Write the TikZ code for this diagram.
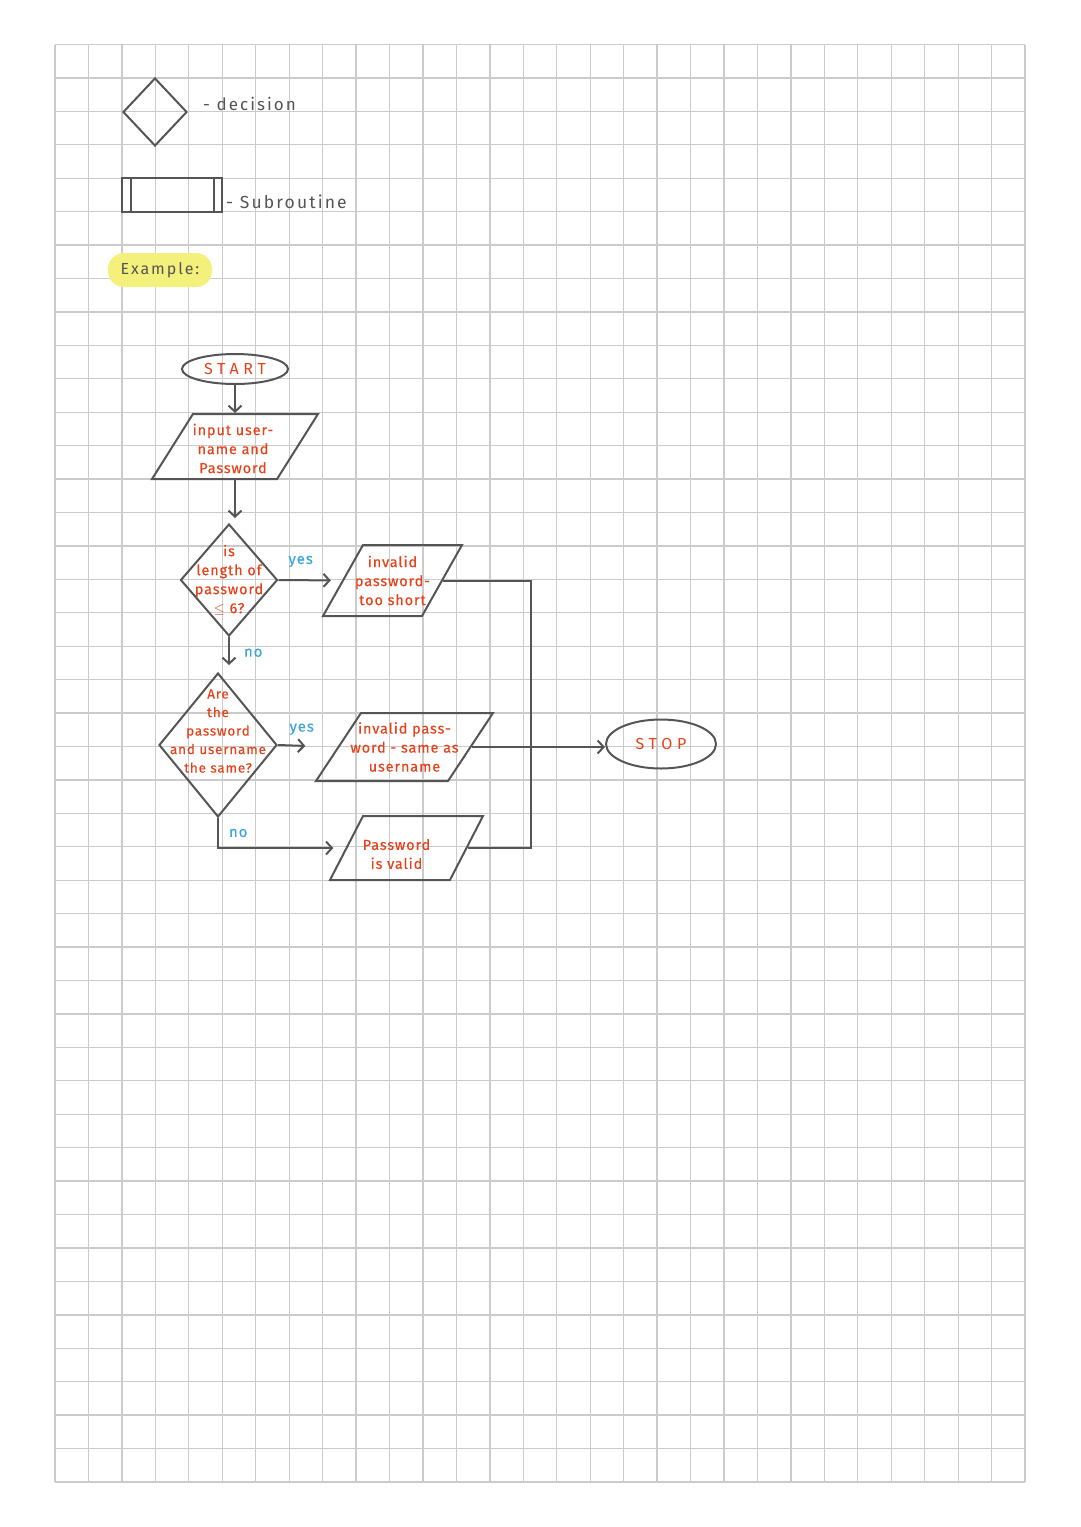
\documentclass[tikz,border=0pt]{standalone}
\usepackage{fontspec}
\setmainfont{Fira Sans}
\newfontfamily\handfont[LetterSpace=6,FakeBold=0.4]{Fira Sans}
\newfontfamily\inkfont[LetterSpace=12]{Fira Sans}
\newfontfamily\widefont[LetterSpace=30]{Fira Sans}
\usetikzlibrary{shapes.geometric,arrows.meta}
\definecolor{ink}{HTML}{555555}
\definecolor{penred}{HTML}{E5431B}
\definecolor{penblue}{HTML}{3DA5DD}
\definecolor{hilite}{HTML}{F4F07C}
\definecolor{gridgrey}{HTML}{CBCBCB}
\tikzset{
  gridline/.style={draw=gridgrey,line width=1.3pt},
  pen/.style={draw=ink,line width=2pt},
  flow/.style={pen,-{Straight Barb[length=6pt,width=13pt]}},
  decision/.style={pen,diamond,inner sep=0pt},
  io/.style={pen,trapezium,trapezium left angle=#1,trapezium right angle={180-#1},
    trapezium stretches body,inner xsep=0pt},
  io/.default=58,
  terminal/.style={pen,ellipse,inner sep=0pt,text=penred,font=\widefont\fontsize{16}{16}\selectfont},
  redtext/.style={text=penred,align=center,inner sep=0pt,font=\handfont\fontsize{14.5}{19}\selectfont},
  bluetext/.style={text=penblue,inner sep=0pt,font=\handfont\fontsize{15}{15}\selectfont},
  inktext/.style={text=ink,inner sep=0pt,font=\inkfont\fontsize{17}{17}\selectfont},
}
\begin{document}
\begin{tikzpicture}[x=1pt,y=-1pt]
                    \useasboundingbox (0,0) rectangle (1080,1527);
                    {

                    % Drawing the squared paper
                    \foreach \i in {0,...,29} {
                      \draw [gridline] ({55+\i*33.45},44.5) -- ({55+\i*33.45},1482);%
                    }
                    \foreach \j in {0,...,43} {
                      \draw [gridline] (55,{44.5+\j*33.43}) -- (1025,{44.5+\j*33.43});%
                    }

                    % Legend: decision
                    \node (legdiamond) at (155.000000,112.000000) [decision, minimum width=64pt, minimum height=68pt] {};%
                    \node (legdecision) at (203.000000,104.000000) [inktext, anchor=west] {- decision};%

                    % Legend: subroutine
                    \node (legsub) at (172.000000,195.000000) [pen, rectangle, inner sep=0pt, minimum width=100pt, minimum height=34pt] {};%
                    \draw [pen] ([xshift=10pt]legsub.north west) -- ([xshift=10pt]legsub.south west);%
                    \draw [pen] ([xshift=-9pt]legsub.north east) -- ([xshift=-9pt]legsub.south east);%
                    \node (legsubroutine) at (226.000000,202.000000) [inktext, anchor=west, font=\inkfont\fontsize{17.5}{17.5}\selectfont] {- Subroutine};%

                    % Highlighted heading
                    \node (example) at (160.000000,270.000000) [fill=hilite, rounded corners=16pt, minimum width=104pt, minimum height=34pt, inner sep=0pt, text=ink, font=\inkfont\fontsize{16}{16}\selectfont] {Example:};%

                    % Terminals
                    \node (start) at (235.000000,369.000000) [terminal, minimum width=106pt, minimum height=30pt] {START};%
                    \node (stop) at (661.000000,744.000000) [terminal, minimum width=110pt, minimum height=49pt] {STOP};%

                    % Input username and password
                    \node (input) at (235.000000,446.500000) [io=57.8, inner ysep=32.5pt, minimum width=166pt,
                      label={[redtext, xshift=-2pt, yshift=-2pt]center:{input user-\\name and\\Password}}] {};%

                    % Decision: length of password
                    \node (length) at (229.000000,580.000000) [decision, minimum width=97pt, minimum height=112pt,
                      label={[redtext]center:{is\\length of\\password\\$\leq$ 6?}}] {};%

                    % Output: too short
                    \node (short) at (392.500000,580.500000) [io=60.6, inner ysep=35.5pt, minimum width=139pt,
                      label={[redtext]center:{invalid\\password-\\too short}}] {};%

                    % Decision: password same as username
                    \node (same) at (218.000000,745.000000) [decision, minimum width=118pt, minimum height=144pt,
                      label={[redtext, yshift=14pt, font=\handfont\fontsize{13.5}{18.5}\selectfont]center:{Are\\the\\password\\and username\\the same?}}] {};%

                    % Output: same as username
                    \node (sameas) at (404.500000,747.000000) [io=56.5, inner ysep=34pt, minimum width=177pt,
                      label={[redtext]center:{invalid pass-\\word - same as\\username}}] {};%

                    % Output: valid
                    \node (valid) at (406.500000,848.000000) [io=62.7, inner ysep=32pt, minimum width=153pt,
                      label={[redtext, xshift=-10pt, yshift=-6pt]center:{Password\\is valid}}] {};%

                    % Drawing the flow
                    \draw [flow] (start.south) -- (input.north);%
                    \draw [flow, shorten >=5pt] (input.south) -- (input.south |- length.north);%
                    \draw [flow, shorten >=11pt] (length.east) -- node [bluetext, above=12pt, pos=0.35] (yesshort) {yes} (short.west);%
                    \draw [flow, shorten >=7pt] (length.south) -- node [bluetext, right=14pt, pos=0.45] (noshort) {no} (length.south |- same.north);%
                    \draw [flow, shorten >=32pt] (same.east) -- node [bluetext, above=10pt, pos=0.4] (yessame) {yes} (sameas.west);%
                    \draw [flow, shorten >=12pt] (same.south) |- node [bluetext, right=10pt, pos=0.25] (nosame) {no} (valid.west);%
                    \draw [flow] (sameas.east) -- (sameas.east -| stop.west);%

                    % Joining the outputs
                    \coordinate (merge) at (531.000000,747.000000);%
                    \draw [pen] (short.east) -| (merge);%
                    \draw [pen] (valid.east) -| (merge);%
                    }
                    \end{tikzpicture}
\end{document}
